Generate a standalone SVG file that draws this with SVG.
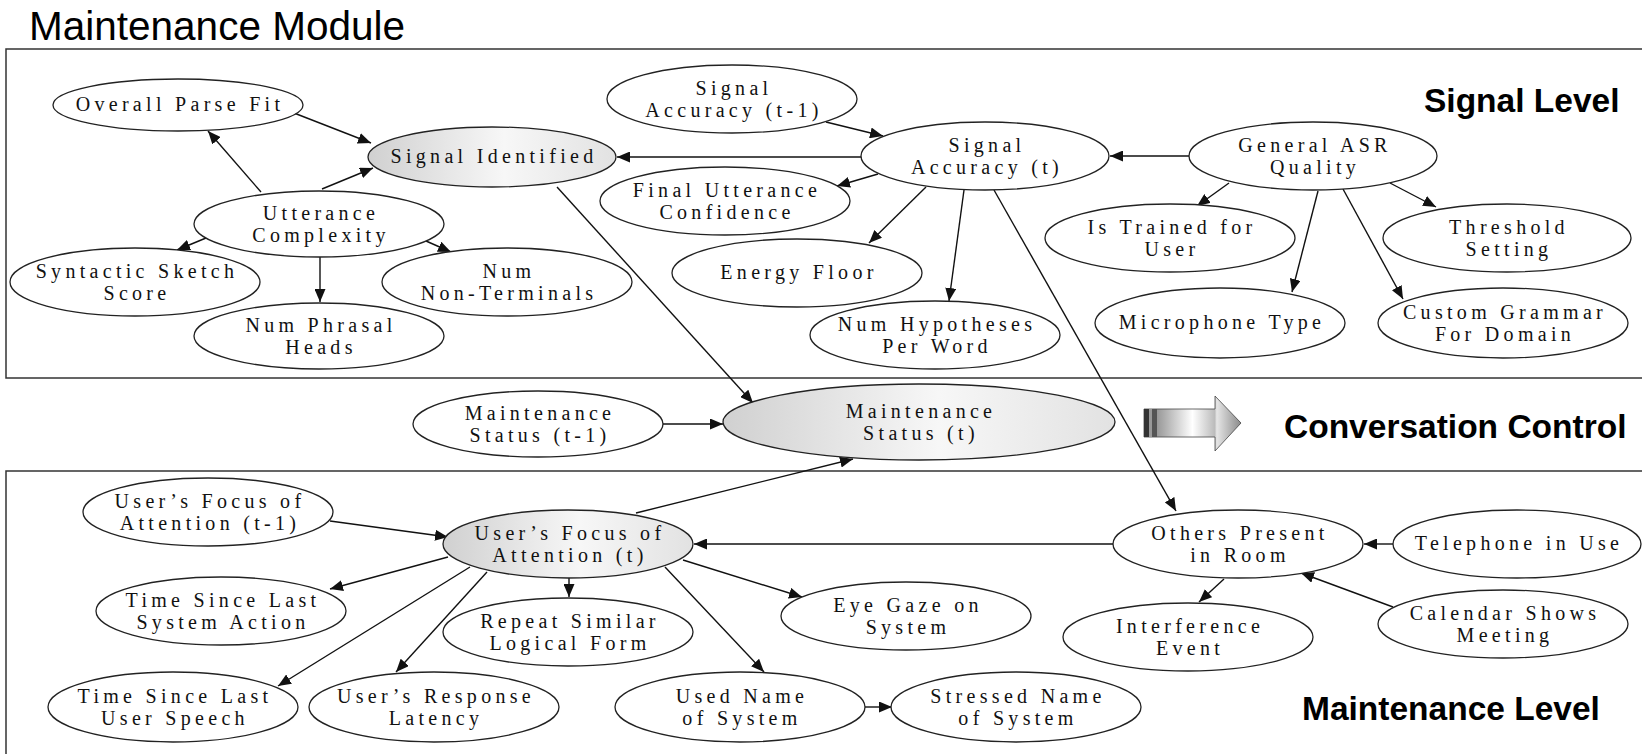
<svg xmlns="http://www.w3.org/2000/svg" width="1642" height="754" viewBox="0 0 1642 754">
<defs>
<style>
.box{fill:none;stroke:#333;stroke-width:1.5}
.n ellipse{fill:#fff;stroke:#222;stroke-width:1.3}
.n.g ellipse{fill:url(#gr)}
.n text{font-family:"Liberation Serif","Times New Roman",serif;font-size:20px;letter-spacing:4.3px;text-anchor:middle;fill:#111}
.e line{stroke:#111;stroke-width:1.4;marker-end:url(#ah)}
.h{font-family:"Liberation Sans",Arial,sans-serif;fill:#000}
.b{font-weight:bold;font-size:33.5px}
</style>
<marker id="ah" viewBox="0 0 13 11" refX="13" refY="5.5" markerWidth="13" markerHeight="11" markerUnits="userSpaceOnUse" orient="auto"><path d="M0,0 L13,5.5 L0,11 z" fill="#111"/></marker>
<linearGradient id="gr" x1="0" y1="0" x2="1" y2="0"><stop offset="0" stop-color="#d0d0d0"/><stop offset="0.55" stop-color="#f7f7f7"/><stop offset="1" stop-color="#e2e2e2"/></linearGradient>
<linearGradient id="ag" gradientUnits="userSpaceOnUse" x1="1144" y1="0" x2="1241" y2="0"><stop offset="0" stop-color="#777"/><stop offset="0.2" stop-color="#aaa"/><stop offset="0.5" stop-color="#fff"/><stop offset="0.73" stop-color="#bbb"/><stop offset="0.75" stop-color="#e6e6e6"/><stop offset="1" stop-color="#8a8a8a"/></linearGradient>
</defs>
<rect width="1642" height="754" fill="#fff"/>
<text class="h" x="29" y="40" font-size="40.5">Maintenance Module</text>
<rect class="box" x="6" y="49" width="1660" height="329"/>
<rect class="box" x="6" y="471" width="1660" height="300"/>
<text class="h b" x="1424" y="112">Signal Level</text>
<text class="h b" x="1284" y="438">Conversation Control</text>
<text class="h b" x="1302" y="720">Maintenance Level</text>
<g id="bigarrow">
<polygon points="1144,409 1215,409 1215,396 1241,423 1215,451 1215,437 1144,437" fill="url(#ag)" stroke="#444" stroke-width="0.8"/>
<rect x="1144" y="409" width="5" height="28" fill="#333"/>
<rect x="1149" y="409" width="3" height="28" fill="#999"/>
<rect x="1152" y="409" width="5" height="28" fill="#555"/>
</g>
<g id="connectors" class="e">
<line x1="294" y1="113" x2="371" y2="143"/>
<line x1="261" y1="192" x2="208" y2="131"/>
<line x1="322" y1="189" x2="373" y2="168"/>
<line x1="206" y1="238" x2="177" y2="250"/>
<line x1="320" y1="257" x2="320" y2="302"/>
<line x1="426" y1="241" x2="451" y2="252"/>
<line x1="557" y1="187" x2="753" y2="403"/>
<line x1="826" y1="122" x2="883" y2="136"/>
<line x1="862" y1="157" x2="617" y2="157"/>
<line x1="878" y1="174" x2="837" y2="186"/>
<line x1="926" y1="187" x2="869" y2="243"/>
<line x1="964" y1="190" x2="949" y2="301"/>
<line x1="994" y1="190" x2="1176" y2="511"/>
<line x1="1189" y1="156" x2="1110" y2="156"/>
<line x1="1229" y1="183" x2="1197" y2="206"/>
<line x1="1318" y1="191" x2="1292" y2="292"/>
<line x1="1343" y1="189" x2="1403" y2="299"/>
<line x1="1390" y1="183" x2="1436" y2="207"/>
<line x1="662" y1="424" x2="723" y2="424"/>
<line x1="636" y1="513" x2="853" y2="459"/>
<line x1="330" y1="521" x2="448" y2="537"/>
<line x1="448" y1="557" x2="330" y2="589"/>
<line x1="470" y1="567" x2="278" y2="686"/>
<line x1="487" y1="572" x2="396" y2="672"/>
<line x1="569" y1="578" x2="569" y2="597"/>
<line x1="1113" y1="544" x2="694" y2="544"/>
<line x1="683" y1="560" x2="802" y2="597"/>
<line x1="665" y1="567" x2="764" y2="672"/>
<line x1="865" y1="707" x2="892" y2="707"/>
<line x1="1393" y1="544" x2="1364" y2="544"/>
<line x1="1393" y1="607" x2="1301" y2="573"/>
<line x1="1224" y1="579" x2="1199" y2="602"/>
</g>
<g id="opf" class="n"><ellipse cx="178" cy="105" rx="125" ry="26"/><text x="180" y="111">Overall Parse Fit</text></g>
<g id="si" class="n g"><ellipse cx="492" cy="157" rx="124" ry="30"/><text x="494" y="163">Signal Identified</text></g>
<g id="uc" class="n"><ellipse cx="319" cy="224" rx="125" ry="33"/><text x="321" y="220">Utterance</text><text x="321" y="242">Complexity</text></g>
<g id="sss" class="n"><ellipse cx="135" cy="282" rx="125" ry="34"/><text x="137" y="278">Syntactic Sketch</text><text x="137" y="300">Score</text></g>
<g id="nph" class="n"><ellipse cx="319" cy="336" rx="125" ry="33"/><text x="321" y="332">Num Phrasal</text><text x="321" y="354">Heads</text></g>
<g id="nnt" class="n"><ellipse cx="507" cy="282" rx="125" ry="34"/><text x="509" y="278">Num</text><text x="509" y="300">Non-Terminals</text></g>
<g id="sat1" class="n"><ellipse cx="732" cy="99" rx="125" ry="34"/><text x="734" y="95">Signal</text><text x="734" y="117">Accuracy (t-1)</text></g>
<g id="sat" class="n"><ellipse cx="985" cy="156" rx="124" ry="34"/><text x="987" y="152">Signal</text><text x="987" y="174">Accuracy (t)</text></g>
<g id="fuc" class="n"><ellipse cx="725" cy="201" rx="125" ry="34"/><text x="727" y="197">Final Utterance</text><text x="727" y="219">Confidence</text></g>
<g id="ef" class="n"><ellipse cx="797" cy="273" rx="125" ry="34"/><text x="799" y="279">Energy Floor</text></g>
<g id="nhpw" class="n"><ellipse cx="935" cy="335" rx="125" ry="34"/><text x="937" y="331">Num Hypotheses</text><text x="937" y="353">Per Word</text></g>
<g id="gasr" class="n"><ellipse cx="1313" cy="156" rx="124" ry="34"/><text x="1315" y="152">General ASR</text><text x="1315" y="174">Quality</text></g>
<g id="itu" class="n"><ellipse cx="1170" cy="238" rx="125" ry="34"/><text x="1172" y="234">Is Trained for</text><text x="1172" y="256">User</text></g>
<g id="ts" class="n"><ellipse cx="1507" cy="238" rx="124" ry="34"/><text x="1509" y="234">Threshold</text><text x="1509" y="256">Setting</text></g>
<g id="mt" class="n"><ellipse cx="1220" cy="323" rx="125" ry="35"/><text x="1222" y="329">Microphone Type</text></g>
<g id="cgd" class="n"><ellipse cx="1503" cy="323" rx="125" ry="35"/><text x="1505" y="319">Custom Grammar</text><text x="1505" y="341">For Domain</text></g>
<g id="mst1" class="n"><ellipse cx="538" cy="424" rx="125" ry="33"/><text x="540" y="420">Maintenance</text><text x="540" y="442">Status (t-1)</text></g>
<g id="mst" class="n g"><ellipse cx="919" cy="422" rx="196" ry="38"/><text x="921" y="418">Maintenance</text><text x="921" y="440">Status (t)</text></g>
<g id="ufat1" class="n"><ellipse cx="208" cy="512" rx="125" ry="34"/><text x="210" y="508">User’s Focus of</text><text x="210" y="530">Attention (t-1)</text></g>
<g id="ufat" class="n g"><ellipse cx="568" cy="544" rx="125" ry="34"/><text x="570" y="540">User’s Focus of</text><text x="570" y="562">Attention (t)</text></g>
<g id="tslsa" class="n"><ellipse cx="221" cy="611" rx="125" ry="34"/><text x="223" y="607">Time Since Last</text><text x="223" y="629">System Action</text></g>
<g id="rslf" class="n"><ellipse cx="568" cy="632" rx="125" ry="34"/><text x="570" y="628">Repeat Similar</text><text x="570" y="650">Logical Form</text></g>
<g id="tslus" class="n"><ellipse cx="173" cy="707" rx="125" ry="35"/><text x="175" y="703">Time Since Last</text><text x="175" y="725">User Speech</text></g>
<g id="url" class="n"><ellipse cx="434" cy="707" rx="125" ry="35"/><text x="436" y="703">User’s Response</text><text x="436" y="725">Latency</text></g>
<g id="egs" class="n"><ellipse cx="906" cy="616" rx="125" ry="34"/><text x="908" y="612">Eye Gaze on</text><text x="908" y="634">System</text></g>
<g id="uns" class="n"><ellipse cx="740" cy="707" rx="125" ry="35"/><text x="742" y="703">Used Name</text><text x="742" y="725">of System</text></g>
<g id="sns" class="n"><ellipse cx="1016" cy="707" rx="125" ry="35"/><text x="1018" y="703">Stressed Name</text><text x="1018" y="725">of System</text></g>
<g id="opr" class="n"><ellipse cx="1238" cy="544" rx="125" ry="34"/><text x="1240" y="540">Others Present</text><text x="1240" y="562">in Room</text></g>
<g id="tiu" class="n"><ellipse cx="1517" cy="544" rx="124" ry="34"/><text x="1519" y="550">Telephone in Use</text></g>
<g id="ie" class="n"><ellipse cx="1188" cy="637" rx="125" ry="34"/><text x="1190" y="633">Interference</text><text x="1190" y="655">Event</text></g>
<g id="csm" class="n"><ellipse cx="1503" cy="624" rx="125" ry="34"/><text x="1505" y="620">Calendar Shows</text><text x="1505" y="642">Meeting</text></g>
</svg>
